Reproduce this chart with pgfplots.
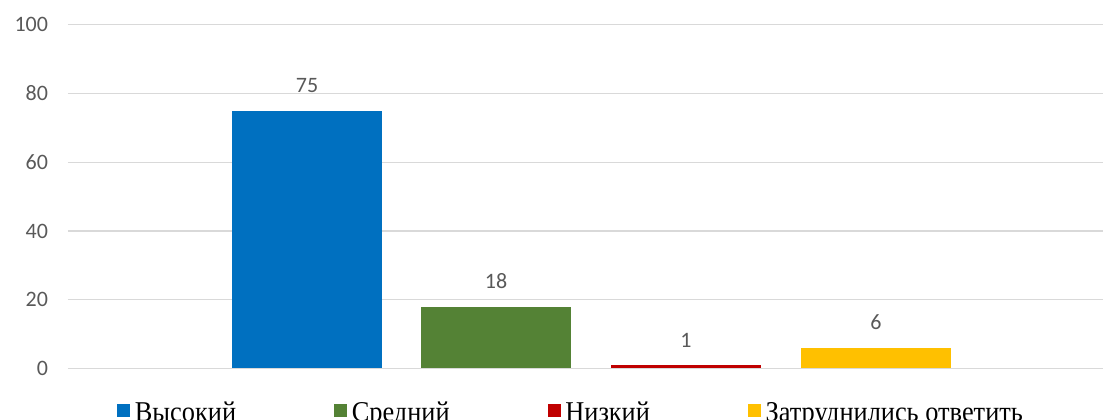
\documentclass[border=0pt]{standalone}
\usepackage{pgfplots}
\pgfplotsset{compat=1.18}
\usepackage{fontspec}
\setmainfont{Liberation Serif}
\newfontfamily\carlito{Carlito}

\definecolor{cBlue}{HTML}{0070C0}
\definecolor{cGreen}{HTML}{548235}
\definecolor{cRed}{HTML}{C00000}
\definecolor{cYellow}{HTML}{FFC000}
\definecolor{gridgray}{HTML}{D9D9D9}
\definecolor{txtgray}{HTML}{595959}

\newcommand{\legtxt}[1]{\scalebox{0.92}[1]{#1}}

\begin{document}
\begin{tikzpicture}
\begin{axis}[
    scale only axis,
    width=776.25pt, height=257.85pt,
    xmin=68, xmax=1103,
    ymin=0, ymax=100,
    ytick={0,20,...,100},
    xtick=\empty,
    ymajorgrids=true,
    grid style={gridgray, line width=0.9pt},
    axis line style={draw=none},
    major tick length=0pt,
    /pgf/number format/assume math mode=true,
    yticklabel style={font=\carlito\fontsize{16.5}{18}\selectfont, text=txtgray, xshift=-11.5pt},
    ybar, bar width=150, bar shift=0pt,
    nodes near coords,
    nodes near coords style={font=\carlito\fontsize{16.5}{18}\selectfont, text=txtgray, anchor=south, yshift=10pt},
    legend columns=4,
    legend style={at={(0.0473,-0.1283)}, anchor=west, draw=none, inner sep=0pt,
        nodes={inner sep=0pt, font=\fontsize{21.5}{23}\selectfont},
        /tikz/every odd column/.append style={column sep=3.5pt},
        /tikz/every even column/.append style={column sep=73.5pt}},
    legend image code/.code={\fill[#1] (0pt,-3pt) rectangle (9.75pt,6.75pt);},
]
\addplot[fill=cBlue, draw=none] coordinates {(307,75)};
\addplot[fill=cGreen, draw=none] coordinates {(496,18)};
\addplot[fill=cRed, draw=none] coordinates {(686,1)};
\addplot[fill=cYellow, draw=none] coordinates {(876,6)};
\legend{\legtxt{Высокий}, \legtxt{Средний}, \legtxt{Низкий}, \legtxt{Затруднились ответить}}
\end{axis}
\pgfresetboundingbox
\path (current axis.south west) ++(-51pt,-38.625pt) rectangle ++(827.25pt,315pt);
\end{tikzpicture}
\end{document}
